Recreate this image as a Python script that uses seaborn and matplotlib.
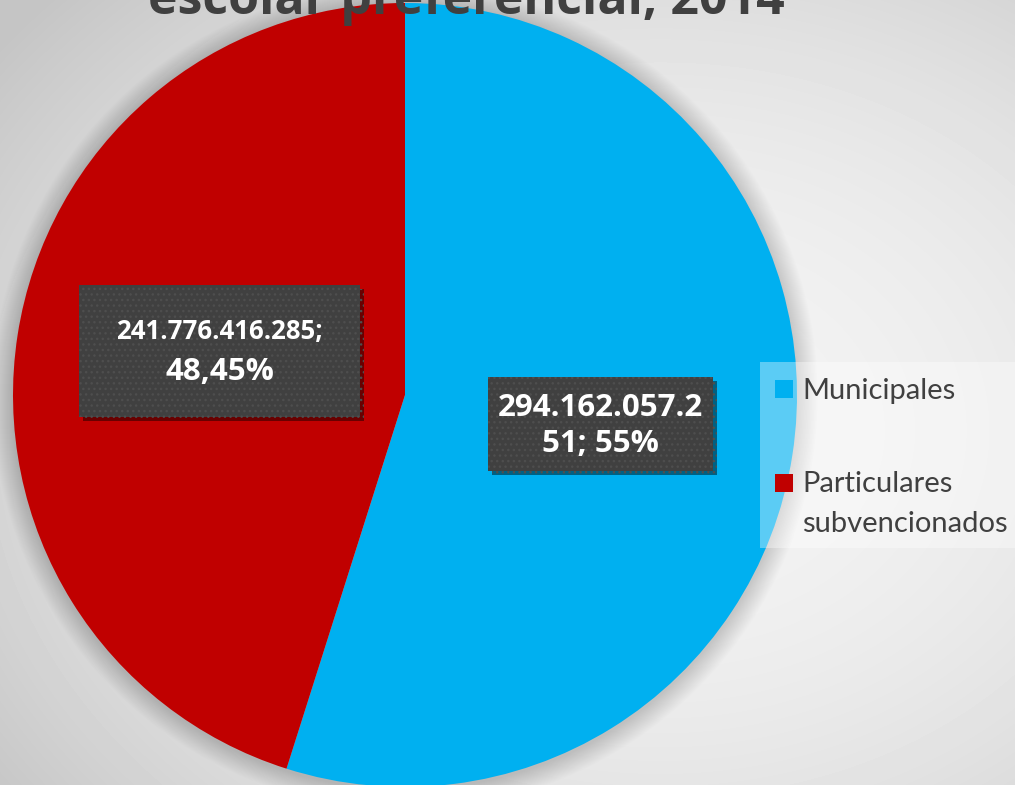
import numpy as np
import seaborn as sns
import matplotlib.pyplot as plt
import matplotlib.patches as mpatches
import matplotlib.patheffects as pe

# datos del grafico
categorias = ['Municipales', 'Particulares\nsubvencionados']
montos = [294162057251, 241776416285]
porcentajes = ['55%', '48,45%']
colores = ['#00B0F0', '#C00000']
titulo = 'escolar preferencial, 2014'

sns.set_theme(style='white')
plt.rcParams['font.family'] = ['Lato', 'DejaVu Sans']
plt.rcParams['hatch.linewidth'] = 1.0
negrita = ['Open Sans', 'DejaVu Sans']

W, H = 1015, 785
fig = plt.figure(figsize=(W / 100, H / 100), dpi=100)

# fondo con degradado gris
bg = fig.add_axes([0, 0, 1, 1], zorder=0)
yy, xx = np.mgrid[0:H, 0:W]
r2 = ((xx - 660) / 720.0) ** 2 + ((yy - 430) / 560.0) ** 2
fondo = 0.955 - 0.14 * np.clip(r2, 0, 1.3)
bg.imshow(fondo, cmap='gray', vmin=0, vmax=1, aspect='auto', extent=(0, W, H, 0))
bg.axis('off')

ax = fig.add_axes([0, 0, 1, 1], zorder=1)
ax.patch.set_alpha(0)

cx, cy, rad = 405, H - 395, 392

# sombra suave de la torta
for k in range(1, 22):
    ax.add_patch(mpatches.Circle((cx, cy - 2), rad + k, color='black',
                                 alpha=0.006, lw=0, zorder=1))

wedges, _ = ax.pie(montos, colors=colores, startangle=90, counterclock=False,
                   center=(cx, cy), radius=rad,
                   wedgeprops=dict(linewidth=0, zorder=2))
ax.set_xlim(0, W)
ax.set_ylim(0, H)
ax.set_aspect('equal')
ax.axis('off')


def fmt(v):
    return f'{v:,}'.replace(',', '.')


sombra = [pe.withSimplePatchShadow(offset=(3, -3), shadow_rgbFace='black', alpha=0.45),
          pe.Normal()]

# etiqueta municipales
caja1 = mpatches.Rectangle((488, H - 471), 225, 94, facecolor='#404040', edgecolor='#4e4e4e',
                           linewidth=0, hatch='...', zorder=3, path_effects=sombra)
ax.add_patch(caja1)
txt1 = fmt(montos[0]) + '; ' + porcentajes[0]
ax.text(600.5, H - 426, txt1[:13] + '\n' + txt1[13:], ha='center', va='center',
        color='white', fontsize=22.5, fontweight='bold', family=negrita,
        linespacing=1.22, zorder=4)

# etiqueta particulares
caja2 = mpatches.Rectangle((79, H - 417), 281, 132, facecolor='#404040', edgecolor='#4e4e4e',
                           linewidth=0, hatch='...', zorder=3, path_effects=sombra)
ax.add_patch(caja2)
ax.text(219.5, H - 332, fmt(montos[1]) + ';', ha='center', va='center',
        color='white', fontsize=18.5, fontweight='bold', family=negrita, zorder=4)
ax.text(219.5, H - 372, porcentajes[1], ha='center', va='center',
        color='white', fontsize=22.5, fontweight='bold', family=negrita, zorder=4)

# leyenda
ax.add_patch(mpatches.Rectangle((760, H - 548), 255, 186, facecolor='white',
                                alpha=0.36, lw=0, zorder=5))
ys = [389, 483]
for cat, col, y in zip(categorias, colores, ys):
    ax.add_patch(mpatches.Rectangle((775, H - y - 9), 18, 18, facecolor=col, lw=0, zorder=6))
    if '\n' in cat:
        ax.text(802, H - y + 12, cat, ha='left', va='top', color='#404040',
                fontsize=21, linespacing=1.68, zorder=6)
    else:
        ax.text(802, H - y, cat, ha='left', va='center_baseline', color='#404040',
                fontsize=21, zorder=6)

# titulo (cortado arriba)
ax.text(466, H - 14, titulo, ha='center', va='baseline', color='#404040',
        fontsize=36, fontweight='bold', family=negrita, zorder=7)

fig.savefig('out.png', dpi=100)
